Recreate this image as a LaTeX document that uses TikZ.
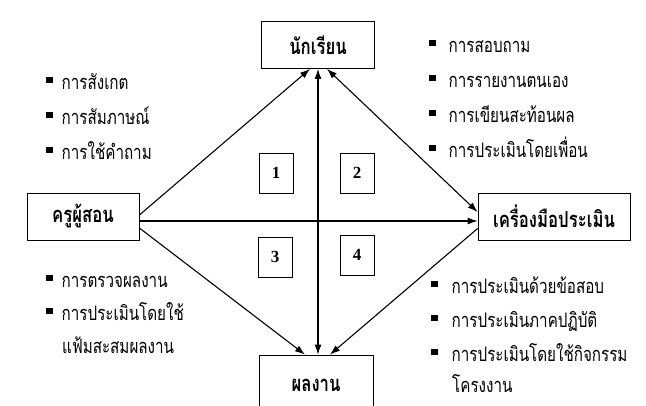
\documentclass[tikz,border=0pt]{standalone}
\usepackage{fontspec}
\newfontfamily\thaifont[Script=Thai,FakeStretch=0.76]{Loma}
\newfontfamily\numfont{Liberation Serif}
\usetikzlibrary{arrows.meta}
\newcommand{\itm}[1][9pt]{\rule[6pt]{6.5pt}{6.5pt}\hspace{#1}}
\tikzset{x=1pt, y=-1pt,
>={Latex[length=10pt,width=7pt]},
box/.style={ % Sets the properties for the four main boxes
draw,
line width=0.8pt,
inner sep=0pt,
minimum height=47pt,
font=\thaifont\bfseries\fontsize{22}{24}\selectfont},
numbox/.style={ % Small numbered boxes
draw,
line width=0.8pt,
minimum width=34pt,
minimum height=40pt,
font=\numfont\bfseries\fontsize{17}{19}\selectfont},
item/.style={ % One line of a list
anchor=base west,
inner sep=0pt,
font=\thaifont\fontsize{20}{22}\selectfont},
every edge/.style={ % Sets the properties for each connector
draw,
->,
line width=1.1pt}}
\begin{document}
\begin{tikzpicture}
\useasboundingbox (0,0) rectangle (646,405);
\node[box, minimum width=113pt] (student) at (318,45) {นักเรียน};
\node[box, minimum width=112pt] (teacher) at (83,216.5) {ครูผู้สอน};
\node[box, minimum width=152pt] (tool) at (554,216.5) {เครื่องมือประเมิน};
\node[box, minimum width=114pt, minimum height=60pt] (work) at (316,385) {ผลงาน};
\node[numbox] (n1) at (276,173) {1};
\node[numbox] (n2) at (357,173) {2};
\node[numbox] (n3) at (275,257) {3};
\node[numbox] (n4) at (357,255) {4};
\draw ([yshift=1.5pt]teacher.east) edge ([xshift=-8pt]student.south);
\draw ([yshift=-4.5pt]teacher.east) edge ([yshift=-4.5pt]tool.west);
\draw ([yshift=-11.5pt]teacher.east) edge ([xshift=-11pt]work.north);
\draw (student.south) edge[<->] ([xshift=2pt]work.north);
\draw ([xshift=9pt]student.south) edge[<->] ([yshift=4.5pt]tool.west);
\draw ([yshift=-12pt]tool.west) edge ([xshift=14pt]work.north);
\foreach \t [count=\i] in {การสังเกต, การสัมภาษณ์, การใช้คำถาม}
  \node[item] (ltop\i) at (46,54+35*\i) {\itm\t};
\foreach \t [count=\i] in {การสอบถาม, การรายงานตนเอง, การเขียนสะท้อนผล, การประเมินโดยเพื่อน}
  \node[item] (rtop\i) at (429,17+35*\i) {\itm[13pt]\t};
\foreach \t [count=\i] in {การตรวจผลงาน, การประเมินโดยใช้}
  \node[item] (lbot\i) at (46,254+33*\i) {\itm\t};
\node[item] (lbot3) at (62,353) {แฟ้มสะสมผลงาน};
\foreach \t [count=\i] in {การประเมินด้วยข้อสอบ, การประเมินภาคปฏิบัติ, การประเมินโดยใช้กิจกรรม}
  \node[item] (rbot\i) at (431,259+34*\i) {\itm[14pt]\t};
\node[item] (rbot4) at (452,392) {โครงงาน};
\end{tikzpicture}
\end{document}
